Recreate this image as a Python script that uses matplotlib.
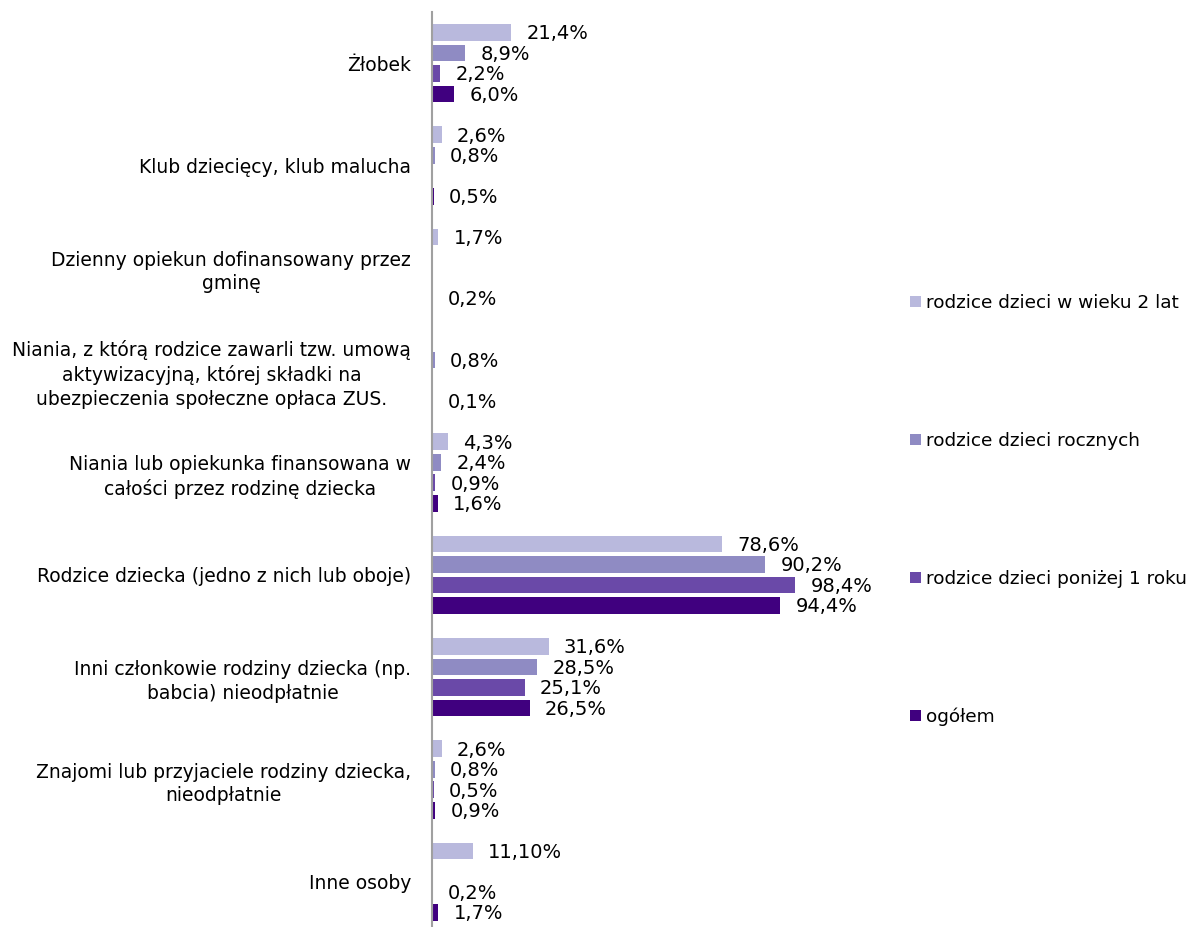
import numpy as np
import matplotlib
matplotlib.use("Agg")
import matplotlib.pyplot as plt

plt.rcParams['font.family'] = ['DejaVu Sans']

# kategorie (od gory)
kategorie = [
    "Żłobek",
    "Klub dziecięcy, klub malucha",
    "Dzienny opiekun dofinansowany przez\ngminę",
    "Niania, z którą rodzice zawarli tzw. umową\naktywizacyjną, której składki na\nubezpieczenia społeczne opłaca ZUS.",
    "Niania lub opiekunka finansowana w\ncałości przez rodzinę dziecka",
    "Rodzice dziecka (jedno z nich lub oboje)",
    "Inni członkowie rodziny dziecka (np.\nbabcia) nieodpłatnie",
    "Znajomi lub przyjaciele rodziny dziecka,\nnieodpłatnie",
    "Inne osoby",
]

serie = ["rodzice dzieci w wieku 2 lat", "rodzice dzieci rocznych",
         "rodzice dzieci poniżej 1 roku", "ogółem"]

nan = np.nan
wiek_2_lat = [21.4, 2.6, 1.7, nan, 4.3, 78.6, 31.6, 2.6, 11.1]
roczne = [8.9, 0.8, nan, 0.8, 2.4, 90.2, 28.5, 0.8, nan]
ponizej_1 = [2.2, nan, nan, nan, 0.9, 98.4, 25.1, 0.5, 0.2]
ogolem = [6.0, 0.5, 0.2, 0.1, 1.6, 94.4, 26.5, 0.9, 1.7]

# etykieta inna niz standardowa
etykiety_specjalne = {(0, 8): "11,10%"}

kolory = ["#B9B9DD", "#8F8BC3", "#6A49A8", "#40007F"]

dane = [wiek_2_lat, roczne, ponizej_1, ogolem]

fig = plt.figure(figsize=(11.93, 9.27), dpi=100)
W, H = 1193, 927
ax = fig.add_axes([432 / W, (H - 933) / H, 443 / W, (933 - 12) / H])

y = np.arange(len(kategorie))
h = 0.163
for j, vals in enumerate(dane):
    vals = np.array(vals, dtype=float)
    pos = y + (j - 1.5) * 0.2
    m = ~np.isnan(vals)
    ax.barh(pos[m], vals[m], height=h, color=kolory[j], label=serie[j])
    for i in np.where(m)[0]:
        txt = etykiety_specjalne.get((j, i), f"{vals[i]:.1f}%".replace(".", ","))
        ax.annotate(txt, (vals[i], pos[i]), xytext=(11, -1), textcoords="offset points",
                    va="center", ha="left", fontsize=14)

ax.set_xlim(0, 120)
ax.set_ylim(len(kategorie) - 0.5, -0.5)
ax.set_yticks(y)
ax.set_yticklabels(kategorie, fontsize=13.5, multialignment="center", linespacing=1.3)
ax.tick_params(axis="y", length=0, pad=15)
ax.set_xticks([])
for s in ["top", "right", "bottom"]:
    ax.spines[s].set_visible(False)
ax.spines["left"].set_color("#A0A0A0")
ax.spines["left"].set_linewidth(1.5)
ax.set_facecolor("none")

fig.legend(loc="center left", bbox_to_anchor=(903 / W, 1 - 510 / H), frameon=False,
           fontsize=13.3, labelspacing=6.5, handlelength=0.55, handleheight=0.55,
           handletextpad=0.3, borderaxespad=0)

fig.savefig("out.png", dpi=100)
